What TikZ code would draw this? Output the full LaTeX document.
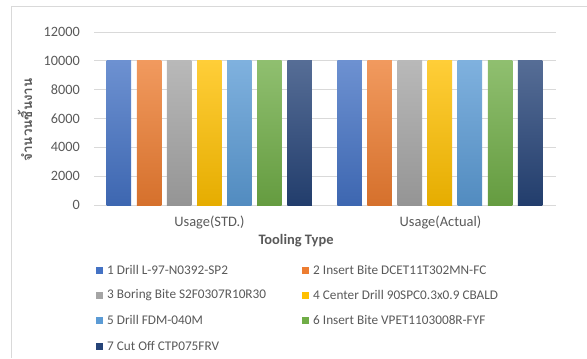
\documentclass[tikz,border=0pt]{standalone}
\usepackage{fontspec}
\setmainfont{Carlito}
\newfontfamily\thaifont[Script=Thai]{Loma}
\definecolor{labelgray}{RGB}{89,89,89}
\definecolor{gridgray}{RGB}{217,217,217}
\definecolor{toolA}{RGB}{68,114,196}
\definecolor{toolB}{RGB}{237,125,49}
\definecolor{toolC}{RGB}{165,165,165}
\definecolor{toolD}{RGB}{255,192,0}
\definecolor{toolE}{RGB}{91,155,213}
\definecolor{toolF}{RGB}{112,173,71}
\definecolor{toolG}{RGB}{38,68,120}
\usetikzlibrary{positioning}

\begin{document}
\begin{tikzpicture}[x=1bp, y=-1bp,
    gridline/.style={gridgray, line width=0.8bp},
    ticklabel/.style={anchor=east, inner sep=0pt, text=labelgray, font=\fontsize{14.3}{16}\selectfont},
    catlabel/.style={inner sep=0pt, text=labelgray, font=\fontsize{14.5}{17}\selectfont},
    legtext/.style={anchor=west, inner sep=0pt, text=labelgray, font=\fontsize{13.3}{16}\selectfont}]
    \useasboundingbox (0,0) rectangle (587,358);

    % Chart frame
    \draw[gridgray] (11,358) -- (11,6) -- (587,6);

    % Grid and values
    \foreach \v [count=\k from 0] in {0,2000,4000,6000,8000,10000,12000} {
        \draw[gridline] (94,{205-28.83*\k}) -- (556,{205-28.83*\k});
        \node[ticklabel] (tick\k) at (80,{205-28.83*\k}) {\v};
    }

    % Bars
    \foreach \col [count=\i from 0] in {toolA,toolB,toolC,toolD,toolE,toolF,toolG} {
        \foreach \g in {0,230.6} {
            \shade[top color=\col!78!white, middle color=\col, bottom color=\col!90!black]
                ({106.7+\g+30.1*\i},60.8) rectangle +(24.5,144.2);
        }
    }

    % Labels
    \node[catlabel] (catstd) at (209.5,222) {Usage(STD.)};
    \node[catlabel] (catact) at (440.5,222) {Usage(Actual)};
    \node[catlabel, font=\fontsize{14.5}{17}\selectfont\bfseries] (xtitle) at (296,241) {Tooling Type};
    \node[rotate=90, inner sep=0pt, text=labelgray, font=\thaifont\bfseries\fontsize{13.5}{15}\selectfont] (ytitle) at (25,120) {จำนวนชิ้นงาน};

    % Legend
    \foreach \col/\x/\y/\txt [count=\n] in {toolA/96/270/1 Drill L-97-N0392-SP2,
            toolB/302/270/2 Insert Bite DCET11T302MN-FC,
            toolC/96/295/3 Boring Bite S2F0307R10R30,
            toolD/302/295/4 Center Drill 90SPC0.3x0.9 CBALD,
            toolE/96/320/5 Drill FDM-040M,
            toolF/302/320/6 Insert Bite VPET1103008R-FYF,
            toolG/96/346/7 Cut Off CTP075FRV} {
        \fill[\col] (\x,\y-3.5) rectangle +(7,7);
        \node[legtext] (leg\n) at (\x+11,\y) {\txt};
    }
\end{tikzpicture}
\end{document}
